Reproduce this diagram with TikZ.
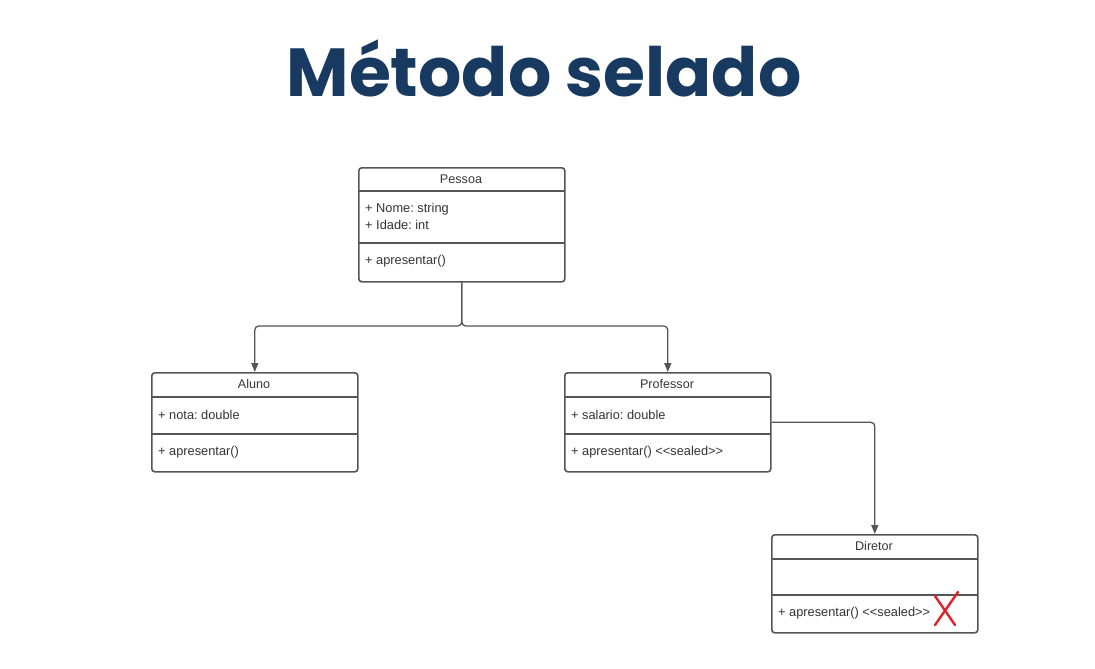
\documentclass[tikz,border=0pt]{standalone}
\usepackage{fontspec}
\setmainfont{Liberation Sans}[Ligatures=NoCommon]
\newfontfamily\titlefont{Poppins}
\usetikzlibrary{arrows.meta}
\definecolor{titleblue}{HTML}{183A60}
\definecolor{umlgray}{HTML}{555555}
\definecolor{crossred}{HTML}{D9232E}
\newcommand{\sealedtag}{<{}<sealed>{}>}
\tikzset{
	classbox/.style={draw=umlgray, line width=1.6pt, rounded corners=3pt, anchor=north west, minimum width=206pt, inner sep=0pt},
	divider/.style={draw=umlgray, line width=1.5pt},
	classname/.style={font=\frenchspacing\fontsize{12.6}{14}\selectfont, text=black!78},
	member/.style={font=\frenchspacing\fontsize{12.8}{15}\selectfont, text=black!80, anchor=west, inner sep=0pt},
	inherit/.style={draw=umlgray, line width=1.3pt, rounded corners=4pt, -{Triangle[length=9pt,width=7pt]}}
}
\begin{document}
\begin{tikzpicture}[x=1pt, y=-1pt]
	\useasboundingbox[fill=white] (0,0) rectangle (1095,669);

	\node[text=titleblue, font=\titlefont\bfseries\fontsize{68}{72}\selectfont] (title) at (544,68) {Método selado};

	% Pessoa
	\node[classbox, minimum height=114pt] (pessoa) at (358,167) {};
	\draw[divider] (358,191) -- (564,191);
	\draw[divider] (358,243) -- (564,243);
	\node[classname] (pessoaname) at (461,179) {Pessoa};
	\node[member] (nome) at (365,209.5) {+ Nome: string};
	\node[member] (idade) at (365,224.5) {+ Idade: int};
	\node[member] (pessoamet) at (365,261) {+ apresentar()};

	% Aluno
	\node[classbox, minimum height=99pt] (aluno) at (151,372) {};
	\draw[divider] (151,397) -- (357,397);
	\draw[divider] (151,434) -- (357,434);
	\node[classname] (alunoname) at (254,384) {Aluno};
	\node[member] (nota) at (158,415) {+ nota: double};
	\node[member] (alunomet) at (158,452) {+ apresentar()};

	% Professor
	\node[classbox, minimum height=99pt] (professor) at (564,372) {};
	\draw[divider] (564,397) -- (770,397);
	\draw[divider] (564,434) -- (770,434);
	\node[classname] (profname) at (667,384) {Professor};
	\node[member] (salario) at (571,415) {+ salario: double};
	\node[member] (profmet) at (571,452) {+ apresentar() \sealedtag};

	% Diretor
	\node[classbox, minimum height=98pt] (diretor) at (771,534) {};
	\draw[divider] (771,559) -- (977,559);
	\draw[divider] (771,595) -- (977,595);
	\node[classname] (dirname) at (874,546) {Diretor};
	\node[member] (dirmet) at (778,613) {+ apresentar() \sealedtag};

	% red cross
	\draw[crossred, line width=2.4pt, line cap=round] (935,596) -- (955,625);
	\draw[crossred, line width=2.4pt, line cap=round] (958,592) -- (935,625);

	% inheritance
	\coordinate (fork) at (pessoa.south |- 0,326);
	\draw[inherit] (pessoa.south) -- (fork) -| (aluno.north);
	\draw[inherit] (pessoa.south) -- (fork) -| (professor.north);
	\draw[inherit] (professor.east) -| (diretor.north);
\end{tikzpicture}
\end{document}
